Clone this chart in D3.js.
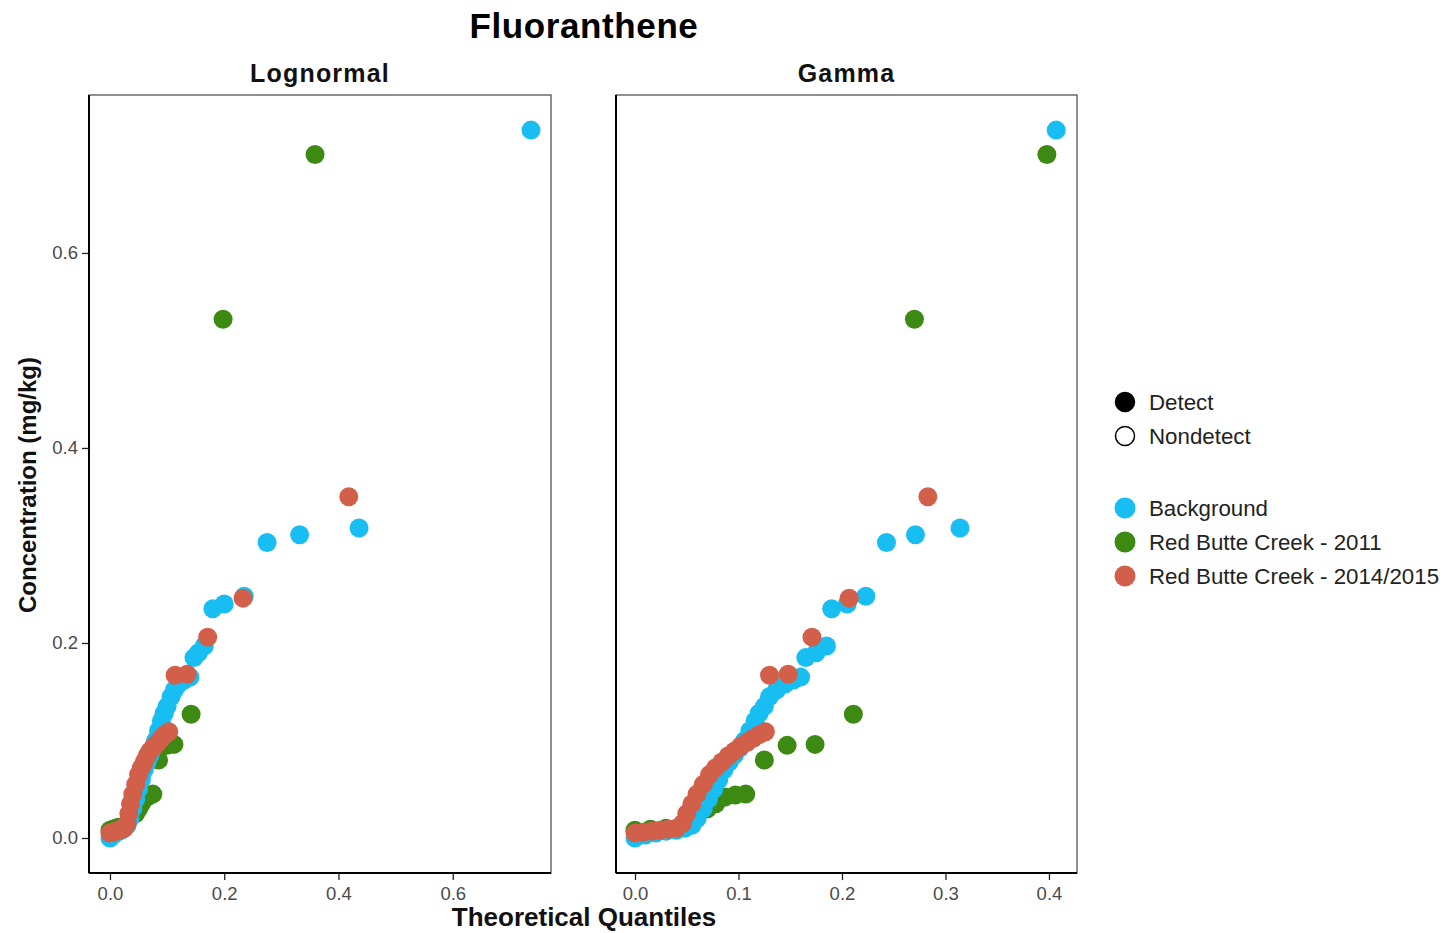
<!DOCTYPE html>
<html>
<head>
<meta charset="utf-8">
<script src="https://cdn.jsdelivr.net/npm/d3@7"></script>
<style>
  html, body { margin: 0; padding: 0; background: #fff; }
  svg { display: block; }
</style>
</head>
<body>
<svg id="chart" width="1449" height="933"></svg>
<script>
// ---------------- DATA ----------------
const chartTitle = "Fluoranthene";
const panelNames = ["Lognormal", "Gamma"];
const groupNames = ["Background", "Red Butte Creek - 2011", "Red Butte Creek - 2014/2015"];
const groupColors = ["#18BDF1", "#3C8A12", "#D25F4A"];
const detectLabels = ["Detect", "Nondetect"];

const yTicks = [0.0, 0.2, 0.4, 0.6];
const xTicksLognormal = [0.0, 0.2, 0.4, 0.6];
const xTicksGamma = [0.0, 0.1, 0.2, 0.3, 0.4];

// Background
const bgConc     = [0.000,0.003,0.005,0.007,0.008,0.010,0.013,0.020,0.030,0.040,0.050,0.060,0.070,0.078,0.085,0.092,0.100,0.110,0.120,0.128,0.135,0.145,0.152,0.158,0.162,0.165,0.185,0.190,0.197,0.235,0.240,0.248,0.303,0.311,0.318,0.726];
const bgLognormQ = [0.000,0.005,0.010,0.015,0.020,0.025,0.030,0.035,0.040,0.045,0.050,0.055,0.060,0.065,0.070,0.075,0.080,0.085,0.090,0.095,0.100,0.107,0.113,0.120,0.130,0.140,0.147,0.155,0.165,0.180,0.200,0.235,0.275,0.332,0.436,0.737];
const bgGammaQ   = [0.000,0.010,0.020,0.030,0.040,0.048,0.055,0.060,0.066,0.071,0.076,0.081,0.086,0.091,0.096,0.101,0.106,0.111,0.116,0.120,0.125,0.130,0.137,0.145,0.153,0.160,0.165,0.175,0.185,0.190,0.205,0.223,0.243,0.271,0.314,0.407];

// Red Butte Creek - 2011
const rbc11Conc     = [0.008,0.009,0.010,0.011,0.025,0.030,0.035,0.042,0.044,0.045,0.080,0.095,0.096,0.127,0.532,0.701];
const rbc11LognormQ = [0.000,0.005,0.010,0.015,0.045,0.050,0.055,0.065,0.070,0.075,0.085,0.100,0.112,0.142,0.198,0.359];
const rbc11GammaQ   = [0.000,0.015,0.030,0.045,0.060,0.070,0.078,0.087,0.097,0.107,0.125,0.147,0.174,0.211,0.270,0.398];

// Red Butte Creek - 2014/2015
const rbc14Conc     = [0.005,0.006,0.007,0.008,0.009,0.010,0.015,0.025,0.035,0.045,0.055,0.065,0.072,0.078,0.084,0.089,0.094,0.098,0.102,0.106,0.109,0.167,0.168,0.206,0.246,0.350];
const rbc14LognormQ = [0.000,0.005,0.010,0.015,0.020,0.025,0.030,0.033,0.036,0.040,0.045,0.050,0.055,0.060,0.065,0.070,0.077,0.084,0.090,0.096,0.103,0.114,0.135,0.171,0.233,0.418];
const rbc14GammaQ   = [0.000,0.008,0.016,0.024,0.032,0.040,0.046,0.050,0.055,0.060,0.066,0.072,0.078,0.084,0.090,0.096,0.102,0.108,0.114,0.120,0.126,0.130,0.148,0.171,0.207,0.283];

// ---------------- BUILD ----------------
const seriesConc = [bgConc, rbc11Conc, rbc14Conc];
const seriesLog = [bgLognormQ, rbc11LognormQ, rbc14LognormQ];
const seriesGam = [bgGammaQ, rbc11GammaQ, rbc14GammaQ];

const svg = d3.select("#chart");
const font = "'Liberation Sans', Arial, sans-serif";

const yScale = d3.scaleLinear().domain([-0.0359, 0.762]).range([873, 95]);
const panels = [
  { name: panelNames[0], x0: 89, x1: 551, domain: [-0.0367, 0.772], ticks: xTicksLognormal, q: seriesLog, showY: true },
  { name: panelNames[1], x0: 616, x1: 1077, domain: [-0.01836, 0.4271], ticks: xTicksGamma, q: seriesGam, showY: false }
];

// Title
svg.append("text").attr("x", 584).attr("y", 38).attr("text-anchor", "middle")
  .attr("font-family", font).attr("font-weight", "bold").attr("font-size", 35).attr("fill", "#000")
  .attr("letter-spacing", 0.6)
  .text(chartTitle);

const drawOrder = [1, 0, 2];
const R = 9.5;

panels.forEach(p => {
  const xs = d3.scaleLinear().domain(p.domain).range([p.x0, p.x1]);
  const g = svg.append("g");
  // panel title
  g.append("text").attr("x", (p.x0 + p.x1) / 2).attr("y", 82).attr("text-anchor", "middle")
    .attr("font-family", font).attr("font-weight", "bold").attr("font-size", 25).attr("fill", "#111")
    .attr("letter-spacing", 1.2)
    .text(p.name);
  // border
  g.append("rect").attr("x", p.x0).attr("y", 95).attr("width", p.x1 - p.x0).attr("height", 873 - 95)
    .attr("fill", "#fff").attr("stroke", "#555").attr("stroke-width", 1.3);

  // points
  drawOrder.forEach(gi => {
    const pts = seriesConc[gi].map((c, i) => ({ c, q: p.q[gi][i] }));
    g.append("g").selectAll("circle").data(pts).join("circle")
      .attr("cx", d => xs(d.q)).attr("cy", d => yScale(d.c)).attr("r", R)
      .attr("fill", groupColors[gi]);
  });

  // x axis
  const xAxis = d3.axisBottom(xs).tickValues(p.ticks).tickFormat(d3.format(".1f")).tickSize(7).tickSizeOuter(0);
  const xa = g.append("g").attr("transform", "translate(0,873)").call(xAxis);
  xa.select(".domain").attr("stroke", "#000").attr("stroke-width", 2)
    .attr("d", `M${p.x0},0H${p.x1}`);
  xa.selectAll(".tick line").attr("stroke", "#222").attr("stroke-width", 1.3);
  xa.selectAll(".tick text").attr("font-family", font).attr("font-size", 18.5).attr("fill", "#4a4a4a").attr("dy", "0.9em");

  // left axis line
  g.append("line").attr("x1", p.x0).attr("x2", p.x0).attr("y1", 95).attr("y2", 873)
    .attr("stroke", "#000").attr("stroke-width", 2);

  if (p.showY) {
    const yAxis = d3.axisLeft(yScale).tickValues(yTicks).tickFormat(d3.format(".1f")).tickSize(7).tickSizeOuter(0);
    const ya = g.append("g").attr("transform", `translate(${p.x0},0)`).call(yAxis);
    ya.select(".domain").remove();
    ya.selectAll(".tick line").attr("stroke", "#222").attr("stroke-width", 1.3);
    ya.selectAll(".tick text").attr("font-family", font).attr("font-size", 18.5).attr("fill", "#4a4a4a").attr("x", -11);
  }
});

// axis titles
svg.append("text").attr("x", 584).attr("y", 926).attr("text-anchor", "middle")
  .attr("font-family", font).attr("font-weight", "bold").attr("font-size", 26).attr("fill", "#111")
  .text("Theoretical Quantiles");
svg.append("text").attr("transform", "translate(36,485) rotate(-90)").attr("text-anchor", "middle")
  .attr("font-family", font).attr("font-weight", "bold").attr("font-size", 24).attr("fill", "#111")
  .text("Concentration (mg/kg)");

// legend
const lg = svg.append("g");
const lx = 1125, tx = 1149;
[402, 436].forEach((y, i) => {
  lg.append("circle").attr("cx", lx).attr("cy", y).attr("r", 9.5)
    .attr("fill", i === 0 ? "#000" : "#fff").attr("stroke", "#000").attr("stroke-width", 1.5);
  lg.append("text").attr("x", tx).attr("y", y + 7.5).attr("font-family", font).attr("font-size", 22.3)
    .attr("fill", "#222").text(detectLabels[i]);
});
[508, 542, 576].forEach((y, i) => {
  lg.append("circle").attr("cx", lx).attr("cy", y).attr("r", 10.5).attr("fill", groupColors[i]);
  lg.append("text").attr("x", tx).attr("y", y + 7.5).attr("font-family", font).attr("font-size", 22.3)
    .attr("fill", "#222").text(groupNames[i]);
});
</script>
</body>
</html>
